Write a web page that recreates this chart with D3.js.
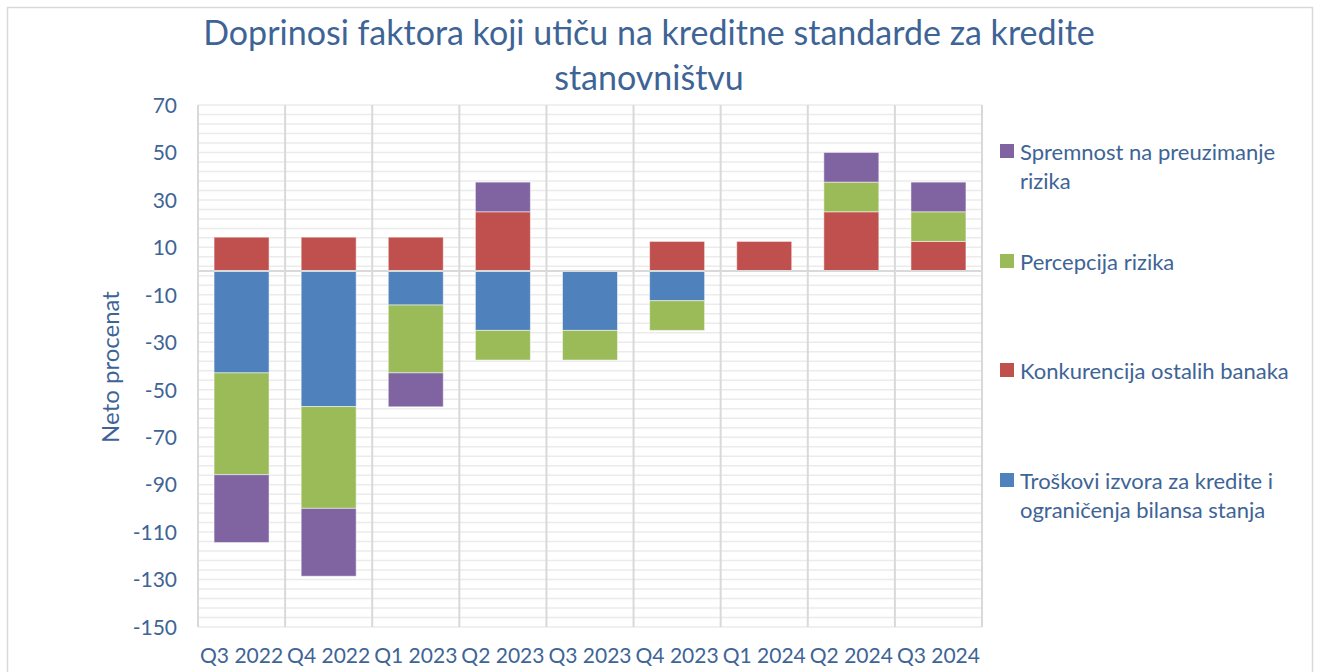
<!DOCTYPE html>
<html>
<head>
<meta charset="utf-8">
<script src="https://cdn.jsdelivr.net/npm/d3@7"></script>
<style>
  body { margin: 0; background: #fff; }
  text { font-family: Lato, "Open Sans", sans-serif; fill: #3E6496; }
</style>
</head>
<body>
<div id="chart"></div>
<script>
// data
const categories = ['Q3 2022', 'Q4 2022', 'Q1 2023', 'Q2 2023', 'Q3 2023', 'Q4 2023', 'Q1 2024', 'Q2 2024', 'Q3 2024'];
const troskovi     = [-42.9, -57.1, -14.3, -25, -25, -12.5, 0, 0, 0];
const konkurencija = [14.3, 14.3, 14.3, 25, 0, 12.5, 12.5, 25, 12.5];
const percepcija   = [-42.9, -42.9, -28.6, -12.5, -12.5, -12.5, 0, 12.5, 12.5];
const spremnost    = [-28.6, -28.6, -14.3, 12.5, 0, 0, 0, 12.5, 12.5];
const seriesNames = ['Troškovi izvora za kredite i ograničenja bilansa stanja', 'Konkurencija ostalih banaka', 'Percepcija rizika', 'Spremnost na preuzimanje rizika'];
const seriesColors = ['#4F81BD', '#C0504D', '#9BBB59', '#8064A2'];
const yTicks = [70, 50, 30, 10, -10, -30, -50, -70, -90, -110, -130, -150];

const W = 1320, H = 672;
const margin = { left: 198, right: 338, top: 105, bottom: 44 };

const svg = d3.select('#chart').append('svg').attr('width', W).attr('height', H);

// outer frame
svg.append('rect').attr('x', 7.5).attr('y', 7.5).attr('width', 1305).attr('height', 700)
  .attr('fill', 'none').attr('stroke', '#D9D9D9').attr('stroke-width', 1.5);

const rows = categories.map((c, i) => ({
  cat: c, s0: troskovi[i], s1: konkurencija[i], s2: percepcija[i], s3: spremnost[i]
}));
const keys = ['s0', 's1', 's2', 's3'];
const stacked = d3.stack().keys(keys).offset(d3.stackOffsetDiverging)(rows);

const x = d3.scaleBand().domain(categories).range([margin.left, W - margin.right]);
const y = d3.scaleLinear().domain([-150, 70]).range([H - margin.bottom - 1, margin.top]);

// horizontal grid every 4 units
const grid = d3.range(-150, 71, 4);
svg.append('g').selectAll('line').data(grid).enter().append('line')
  .attr('x1', margin.left).attr('x2', W - margin.right)
  .attr('y1', d => y(d)).attr('y2', d => y(d))
  .attr('stroke', '#EBEBEB').attr('stroke-width', 1.5);

// vertical category separators
const seps = categories.map(c => x(c)).concat([W - margin.right]);
svg.append('g').selectAll('line').data(seps).enter().append('line')
  .attr('x1', d => d).attr('x2', d => d)
  .attr('y1', y(70)).attr('y2', y(-150))
  .attr('stroke', '#D9D9D9').attr('stroke-width', 2);

// bars
const barW = 55;
const off = (x.bandwidth() - barW) / 2;
svg.append('g').selectAll('g').data(stacked).enter().append('g')
  .attr('fill', (d, i) => seriesColors[i])
  .selectAll('rect').data(d => d.filter(p => p[1] !== p[0])).enter().append('rect')
  .attr('x', d => x(d.data.cat) + off)
  .attr('width', barW)
  .attr('y', d => y(d[1]))
  .attr('height', d => y(d[0]) - y(d[1]))
  .attr('stroke', 'rgba(255,255,255,0.5)').attr('stroke-width', 1);

// zero line
svg.append('line').attr('x1', margin.left).attr('x2', W - margin.right)
  .attr('y1', y(0)).attr('y2', y(0)).attr('stroke', '#D9D9D9').attr('stroke-width', 2);

// y axis labels (plain hyphen, like Excel)
const yAxis = svg.append('g').attr('transform', `translate(${margin.left - 21},0)`)
  .call(d3.axisLeft(y).tickValues(yTicks).tickFormat(d => String(d)).tickSize(0).tickPadding(0));
yAxis.select('.domain').remove();
yAxis.selectAll('text').style('font-size', '21px').attr('fill', '#3E6496').attr('dy', '0.35em');

// x axis labels
const xAxis = svg.append('g').attr('transform', `translate(0,${y(-150)})`)
  .call(d3.axisBottom(x).tickSize(0).tickPadding(21));
xAxis.select('.domain').remove();
xAxis.selectAll('text').style('font-size', '21px').attr('fill', '#3E6496');

// title
const title = svg.append('text').attr('text-anchor', 'middle').style('font-size', '34px');
title.append('tspan').attr('x', 649).attr('y', 45).text('Doprinosi faktora koji utiču na kreditne standarde za kredite');
title.append('tspan').attr('x', 649).attr('y', 90).text('stanovništvu');

// y axis title
svg.append('text').attr('transform', 'translate(119,367) rotate(-90)')
  .attr('text-anchor', 'middle').style('font-size', '24px').text('Neto procenat');

// legend (reverse order, as in the reference)
const legendRows = [
  { i: 3, y: 152, lines: ['Spremnost na preuzimanje', 'rizika'] },
  { i: 2, y: 262, lines: ['Percepcija rizika'] },
  { i: 1, y: 371, lines: ['Konkurencija ostalih banaka'] },
  { i: 0, y: 481, lines: ['Troškovi izvora za kredite i', 'ograničenja bilansa stanja'] }
];
const lg = svg.append('g').selectAll('g').data(legendRows).enter().append('g');
lg.append('rect').attr('x', 1000).attr('y', d => d.y - 8).attr('width', 14).attr('height', 14)
  .attr('fill', d => seriesColors[d.i]);
lg.append('text').style('font-size', '22px').each(function(d) {
  d3.select(this).selectAll('tspan').data(d.lines).enter().append('tspan')
    .attr('x', 1020).attr('y', (l, k) => d.y + 8 + k * 29).text(l => l);
});
</script>
</body>
</html>
